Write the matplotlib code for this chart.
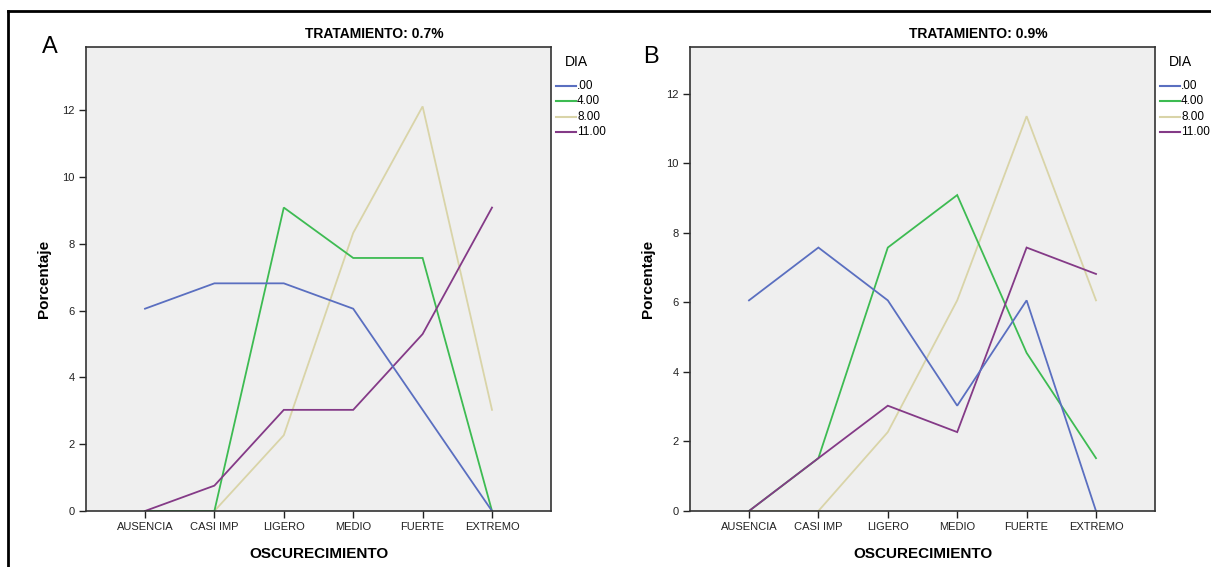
import matplotlib
matplotlib.use("Agg")
import matplotlib.pyplot as plt
from matplotlib.lines import Line2D

plt.rcParams['font.family'] = ['Liberation Sans', 'DejaVu Sans']

# data (percent of samples)
categorias = ['AUSENCIA', 'CASI IMP', 'LIGERO', 'MEDIO', 'FUERTE', 'EXTREMO']
dias = ['.00', '4.00', '8.00', '11.00']
colores = ['#5a6fc0', '#3dbb52', '#d9d4a8', '#843a87']

# panel A, tratamiento 0.7%
a_dia0 = [6.06, 6.82, 6.82, 6.06, 3.03, 0.0]
a_dia4 = [0.0, 0.0, 9.09, 7.58, 7.58, 0.0]
a_dia8 = [0.0, 0.0, 2.27, 8.33, 12.12, 3.03]
a_dia11 = [0.0, 0.76, 3.03, 3.03, 5.30, 9.09]

# panel B, tratamiento 0.9%
b_dia0 = [6.06, 7.58, 6.06, 3.03, 6.06, 0.0]
b_dia4 = [0.0, 1.52, 7.58, 9.09, 4.55, 1.52]
b_dia8 = [0.0, 0.0, 2.27, 6.06, 11.36, 6.06]
b_dia11 = [0.0, 1.52, 3.03, 2.27, 7.58, 6.82]

W, H = 1211, 567
fig = plt.figure(figsize=(W / 100, H / 100), dpi=100)


def px_axes(x0, y0, x1, y1):
    return fig.add_axes([x0 / W, 1 - y1 / H, (x1 - x0) / W, (y1 - y0) / H])


def panel(ax, series, ytop, titulo, tx, letra, lx, ly, legx):
    x = list(range(len(categorias)))
    # draw tan and green first so purple/blue sit on top like the original
    orden = [2, 1, 3, 0]
    for i in orden:
        ax.plot(x, series[i], color=colores[i], lw=1.3, solid_joinstyle='miter')
    ax.set_facecolor('#efefef')
    ax.set_xlim(-0.85, 5.85)
    ax.set_ylim(0, ytop)
    ax.set_yticks([0, 2, 4, 6, 8, 10, 12])
    ax.set_xticks(x)
    ax.set_xticklabels(categorias)
    ax.tick_params(axis='both', direction='out', length=5, width=1,
                   labelsize=8, colors='#222222', pad=3)
    for s in ax.spines.values():
        s.set_color('#333333')
        s.set_linewidth(1.2)
    ax.set_ylabel('Porcentaje', fontsize=11, fontweight='bold', labelpad=8)
    ax.set_xlabel('OSCURECIMIENTO', fontsize=11, fontweight='bold', labelpad=11)

    fig.text(tx / W, 1 - 34 / H, titulo, fontsize=10, fontweight='bold',
             ha='center', va='center')
    fig.text(lx / W, 1 - ly / H, letra, fontsize=17, ha='left', va='center')

    # legend drawn by hand (SPSS style: title above, short line samples)
    fig.text((legx + 9) / W, 1 - 62 / H, 'DIA', fontsize=10, ha='left', va='center')
    for k, d in enumerate(dias):
        yy = 1 - (86 + 15.3 * k) / H
        fig.add_artist(Line2D([legx / W, (legx + 20) / W], [yy, yy],
                              color=colores[k], lw=1.5))
        fig.text((legx + 21) / W, yy, d, fontsize=8.5, ha='left', va='center')


axA = px_axes(86, 47, 551, 511)
panel(axA, [a_dia0, a_dia4, a_dia8, a_dia11], 13.9,
      'TRATAMIENTO: 0.7%', 374, 'A', 42, 47, 556)

axB = px_axes(690, 47, 1155, 511)
panel(axB, [b_dia0, b_dia4, b_dia8, b_dia11], 13.35,
      'TRATAMIENTO: 0.9%', 978, 'B', 643, 57, 1160)

# outer frame (left and top edges only visible in the reference)
fig.add_artist(Line2D([8 / W, 8 / W], [0, 1 - 11 / H], color='black', lw=2))
fig.add_artist(Line2D([8 / W, 1], [1 - 11 / H, 1 - 11 / H], color='black', lw=2))

fig.savefig('out.png', dpi=100)
